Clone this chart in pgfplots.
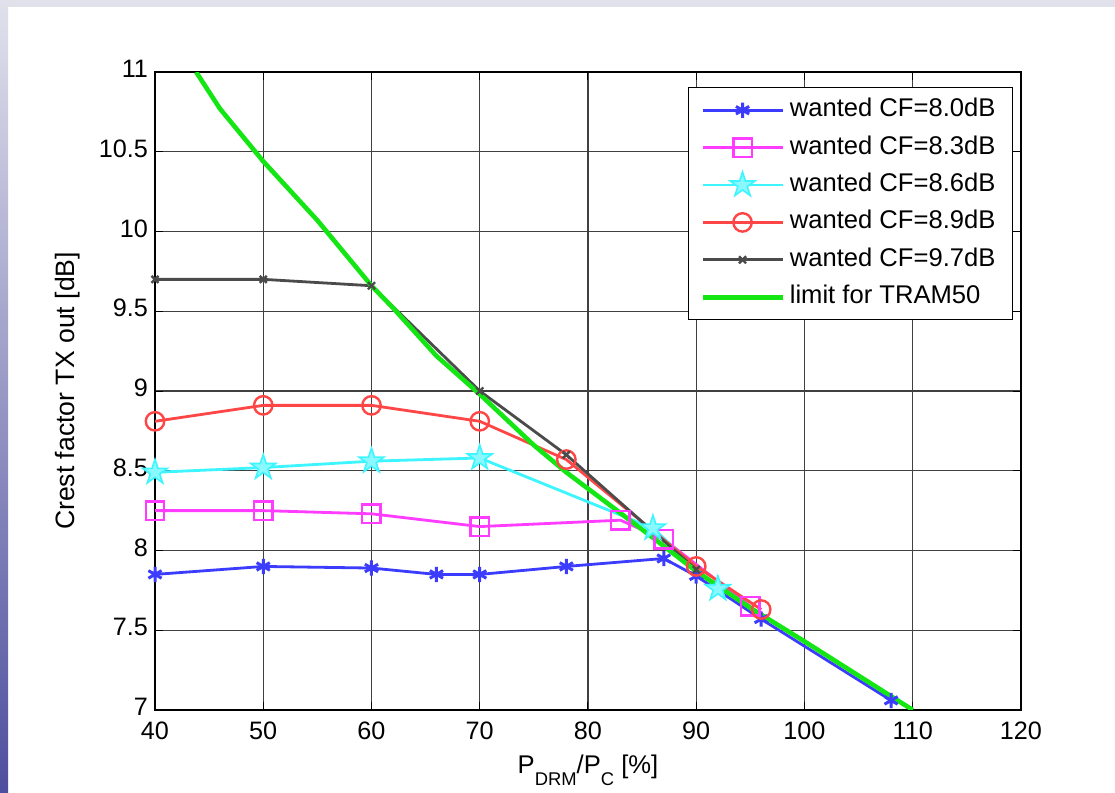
\documentclass[border=0pt]{standalone}
\usepackage{pgfplots}
\pgfplotsset{compat=1.18}
\usepackage{fontspec}
\setmainfont{Liberation Sans}

\definecolor{cblue}{RGB}{60,60,255}
\definecolor{cmag}{RGB}{255,60,255}
\definecolor{ccyan}{RGB}{60,245,255}
\definecolor{cred}{RGB}{255,70,70}
\definecolor{cgray}{RGB}{75,75,75}
\definecolor{cgreen}{RGB}{20,230,20}
\definecolor{bandtop}{RGB}{225,225,236}
\definecolor{bandbot}{RGB}{78,78,158}

% MATLAB style pentagram
\pgfdeclareplotmark{pentagram}{%
  \pgfpathmoveto{\pgfpointpolar{90}{\pgfplotmarksize}}%
  \pgfpathlineto{\pgfpointpolar{126}{0.382*\pgfplotmarksize}}%
  \pgfpathlineto{\pgfpointpolar{162}{\pgfplotmarksize}}%
  \pgfpathlineto{\pgfpointpolar{198}{0.382*\pgfplotmarksize}}%
  \pgfpathlineto{\pgfpointpolar{234}{\pgfplotmarksize}}%
  \pgfpathlineto{\pgfpointpolar{270}{0.382*\pgfplotmarksize}}%
  \pgfpathlineto{\pgfpointpolar{306}{\pgfplotmarksize}}%
  \pgfpathlineto{\pgfpointpolar{342}{0.382*\pgfplotmarksize}}%
  \pgfpathlineto{\pgfpointpolar{18}{\pgfplotmarksize}}%
  \pgfpathlineto{\pgfpointpolar{54}{0.382*\pgfplotmarksize}}%
  \pgfpathclose\pgfusepathqfillstroke}

\begin{document}
\begin{tikzpicture}
\useasboundingbox (0,0) rectangle (557.5pt,396.5pt);
\fill[white] (0,0) rectangle (557.5pt,396.5pt);
\fill[bandtop] (0,393pt) rectangle (557.5pt,396.5pt);
\shade[top color=bandtop, bottom color=bandbot] (0,0) rectangle (4pt,396.5pt);

\begin{axis}[
	at={(77.5pt,41.5pt)}, anchor=south west,
	scale only axis, width=433pt, height=319pt,
	xmin=40, xmax=120, ymin=7, ymax=11,
	xtick={40,50,...,120}, ytick={7,7.5,...,11},
	grid=major, grid style={black!75, line width=0.7pt},
	tick align=inside, major tick length=4pt,
	axis line style={line width=0.6pt},
	tick style={black, line width=0.5pt},
	ticklabel style={font=\fontsize{12.6}{14}\selectfont},
	xticklabel style={yshift=-2.5pt},
	yticklabel style={yshift=1.5pt},
	/pgf/number format/assume math mode=true,
	xlabel={P\raisebox{-6pt}{\fontsize{9.2}{10}\selectfont DRM}/P\raisebox{-6pt}{\fontsize{9.2}{10}\selectfont C} [\%]},
	xlabel style={at={(axis description cs:0.5,-0.1003)}, anchor=base, font=\fontsize{12.8}{14}\selectfont},
	ylabel={Crest factor TX out [dB]},
	ylabel style={at={(axis description cs:-0.1005,0.5)}, anchor=center, font=\fontsize{13.3}{15}\selectfont},
	legend image code/.code={\draw[mark repeat=2,mark phase=2,#1] plot coordinates {(0pt,0pt) (20pt,0pt) (40pt,0pt)};},
	legend style={at={(axis description cs:1,1)}, anchor=north east, xshift=-4pt, yshift=-7.5pt,
		draw=black, line width=0.5pt, font=\fontsize{12.8}{14}\selectfont,
		inner xsep=6pt, inner ysep=2pt,
		nodes={text height=9.5pt, text depth=3pt, inner ysep=3.1pt, inner xsep=2.5pt}},
	legend cell align=left,
	every axis plot/.append style={line width=1.4pt},
]
\addplot[cblue, mark=asterisk, mark size=3.8pt, mark options={solid,line width=1.5pt}]
	coordinates {(40,7.85) (50,7.90) (60,7.89) (66,7.85) (70,7.85) (78,7.90) (87,7.95) (90,7.84) (96,7.57) (108,7.06)};
\addlegendentry{wanted CF=8.0dB}
\addplot[cmag, mark=square, mark size=4.6pt, mark options={solid,line width=1.2pt}]
	coordinates {(40,8.25) (50,8.25) (60,8.23) (70,8.15) (83,8.19) (87,8.07) (95,7.65)};
\addlegendentry{wanted CF=8.3dB}
\addplot[ccyan, mark=pentagram, mark size=6.5pt, mark options={solid,line width=0.8pt,fill=ccyan!60!white}]
	coordinates {(40,8.49) (50,8.52) (60,8.56) (70,8.58) (86,8.14) (92,7.76)};
\addlegendentry{wanted CF=8.6dB}
\addplot[cred, mark=o, mark size=4.6pt, mark options={solid,line width=1.2pt}]
	coordinates {(40,8.81) (50,8.91) (60,8.91) (70,8.81) (78,8.57) (90,7.90) (96,7.63)};
\addlegendentry{wanted CF=8.9dB}
\addplot[cgray, mark=x, mark size=2.5pt, mark options={solid,line width=1.2pt}]
	coordinates {(40,9.70) (50,9.70) (60,9.66) (70,9.00) (78,8.60) (90,7.88)};
\addlegendentry{wanted CF=9.7dB}
\addplot[cgreen, line width=2.3pt]
	coordinates {(43.8,11) (46,10.77) (50,10.44) (55,10.07) (60,9.66) (62,9.52) (66,9.22) (70,8.98) (75,8.66) (78,8.49) (82.5,8.26) (86,8.08) (90,7.87) (95,7.64) (100,7.43) (110,7.0)};
\addlegendentry{limit for TRAM50}
\end{axis}
\end{tikzpicture}
\end{document}
